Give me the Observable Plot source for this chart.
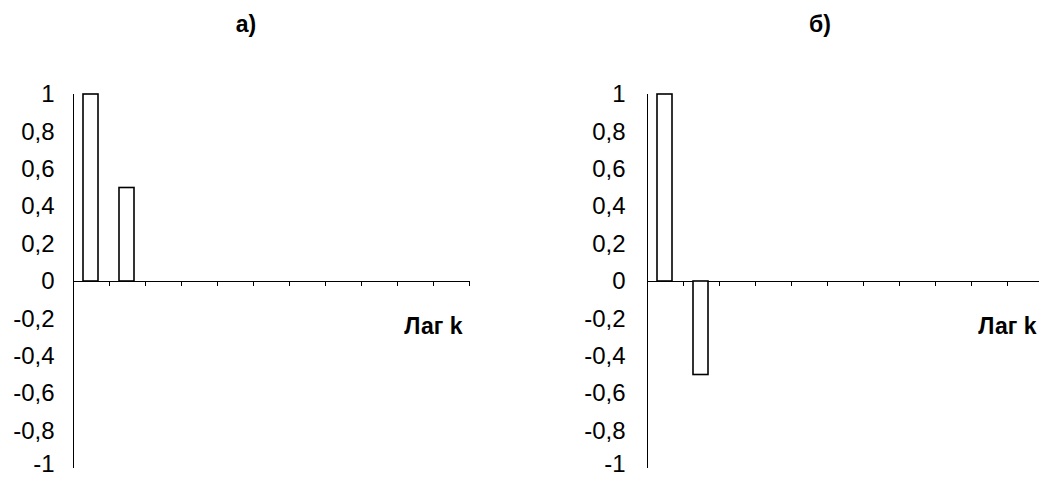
<!DOCTYPE html>
<html><head><meta charset="utf-8">
<script src="https://cdn.jsdelivr.net/npm/d3@7"></script>
<script src="https://cdn.jsdelivr.net/npm/@observablehq/plot@0.6"></script>
<style>
body{margin:0;width:1039px;height:478px;overflow:hidden;position:relative;background:#fff;font-family:"Liberation Sans",Arial,sans-serif;}
.panel{position:absolute;top:0;width:520px;height:478px;}
.panel svg{position:absolute;left:0;top:0;}
.title{position:absolute;top:10px;left:196px;width:100px;text-align:center;font-weight:bold;font-size:23px;line-height:28px;color:#000;}
</style></head><body>
<div id="a" class="panel" style="left:0"></div>
<div id="b" class="panel" style="left:574px"></div>
<script>
const lags = [0, 1, 2, 3, 4, 5, 6, 7, 8, 9, 10];
const acfA = [1, 0.5, 0, 0, 0, 0, 0, 0, 0, 0, 0];
const acfB = [1, -0.5, 0, 0, 0, 0, 0, 0, 0, 0, 0];
const yTicks = [-1, -0.8, -0.6, -0.4, -0.2, 0, 0.2, 0.4, 0.6, 0.8, 1];
const xTickLags = [1, 2, 3, 4, 5, 6, 7, 8, 9, 10, 11];
const titles = ["а)", "б)"];
const xLabel = "Лаг k";

const fmt = d => String(d).replace(".", ",");

function chart(values, pad) {
  const data = lags.map((k, i) => ({lag: k, value: values[i]}));
  return Plot.plot({
    width: 520, height: 478,
    marginLeft: 73, marginRight: 51, marginTop: 94, marginBottom: 10,
    style: {fontFamily: "'Liberation Sans', Arial, sans-serif", fontSize: "24px", color: "#000", background: "transparent"},
    x: {domain: [0, 11], axis: null},
    y: {domain: [-1, 1], label: null},
    marks: [
      Plot.axisY(yTicks.slice(1), {tickFormat: fmt, tickSize: 0, tickPadding: pad, label: null}),
      Plot.axisY(yTicks.slice(0, 1), {tickFormat: fmt, tickSize: 0, tickPadding: pad, label: null, dy: -4}),
      Plot.ruleX([0], {stroke: "#000", strokeWidth: 1}),
      Plot.ruleY([0], {stroke: "#000", strokeWidth: 1}),
      Plot.ruleX(xTickLags, {x: d => d, y1: 0, y2: 0, insetBottom: -5, stroke: "#000"}),
      Plot.rectY(data.filter(d => d.value !== 0), {x1: "lag", x2: d => d.lag + 1, y1: 0, y2: "value", fill: "white", stroke: "#000", strokeWidth: 1.6, insetLeft: 10, insetRight: 11}),
      Plot.text([xLabel], {frameAnchor: "right", dx: -7, dy: 45, textAnchor: "end", fontWeight: "bold", fontSize: 23, fill: "#000"})
    ]
  });
}

[["a", acfA, titles[0], 19], ["b", acfB, titles[1], 22]].forEach(([id, vals, t, pad]) => {
  const el = document.getElementById(id);
  el.appendChild(chart(vals, pad));
  const d = document.createElement("div");
  d.className = "title";
  d.textContent = t;
  el.appendChild(d);
});
</script>
</body></html>
